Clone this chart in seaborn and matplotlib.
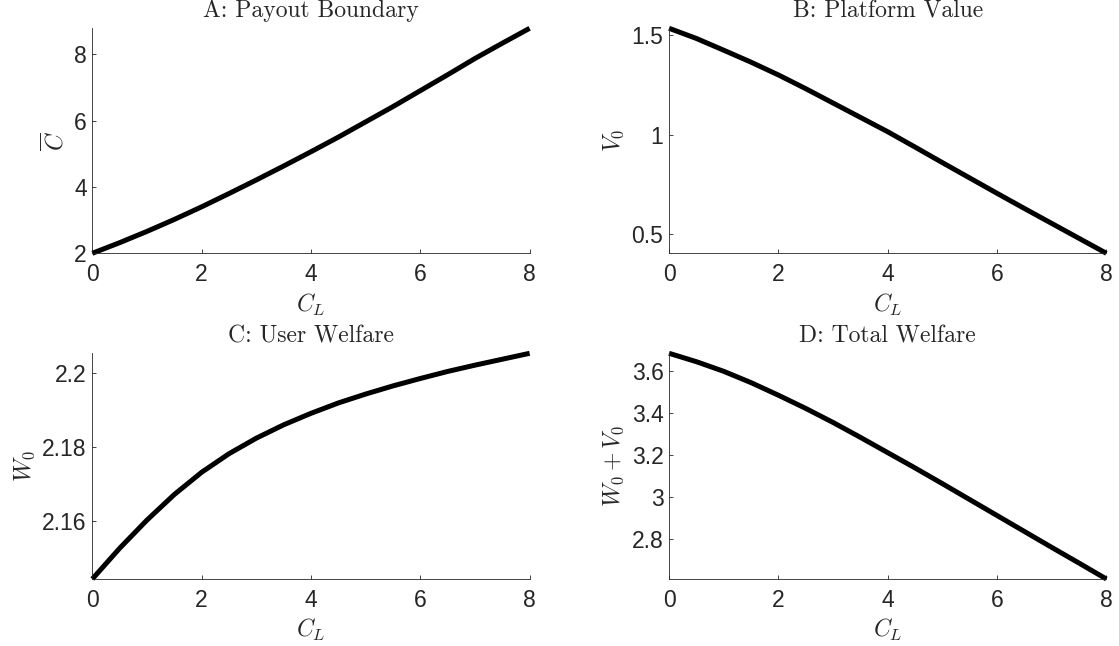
import numpy as np
import pandas as pd
import matplotlib
matplotlib.use("Agg")
import matplotlib.pyplot as plt
import seaborn as sns
from matplotlib.ticker import FuncFormatter

# Style: MATLAB-like boxed-off axes
sns.set_style("white")
plt.rcParams.update({
    'font.family': ['Liberation Sans', 'DejaVu Sans'],
    'mathtext.fontset': 'cm',
    'axes.edgecolor': '#262626',
    'axes.linewidth': 0.6,
    'xtick.bottom': True,
    'ytick.left': True,
    'xtick.color': '#262626',
    'ytick.color': '#262626',
    'xtick.direction': 'in',
    'ytick.direction': 'in',
    'xtick.major.size': 3.2,
    'ytick.major.size': 3.2,
    'xtick.major.width': 0.6,
    'ytick.major.width': 0.6,
    'xtick.labelsize': 16.5,
    'ytick.labelsize': 16.5,
    'xtick.major.pad': 7,
    'ytick.major.pad': 4,
})

# Data
c_l = [0, 0.5, 1, 1.5, 2, 2.5, 3, 3.5, 4, 4.5, 5, 5.5, 6, 6.5, 7, 7.5, 8]
payout_boundary = [2.00, 2.32, 2.66, 3.02, 3.40, 3.80, 4.21, 4.63, 5.06,
                   5.50, 5.96, 6.42, 6.90, 7.38, 7.87, 8.33, 8.78]
platform_value = [1.534, 1.483, 1.424, 1.364, 1.300, 1.231, 1.159, 1.087, 1.015,
                  0.938, 0.860, 0.783, 0.706, 0.630, 0.555, 0.480, 0.405]
user_welfare = [2.1444, 2.1527, 2.1603, 2.1672, 2.1732, 2.1782, 2.1824, 2.1860,
                2.1891, 2.1919, 2.1943, 2.1965, 2.1985, 2.2004, 2.2021, 2.2037, 2.2053]
total_welfare = [3.685, 3.645, 3.599, 3.545, 3.485, 3.422, 3.355, 3.284, 3.211,
                 3.138, 3.063, 2.987, 2.911, 2.835, 2.759, 2.684, 2.608]

panels = [
    ("A: Payout Boundary", r'$\overline{C}$', payout_boundary, [2, 4, 6, 8]),
    ("B: Platform Value", r'$V_0$', platform_value, [0.5, 1, 1.5]),
    ("C: User Welfare", r'$W_0$', user_welfare, [2.16, 2.18, 2.2]),
    ("D: Total Welfare", r'$W_0 + V_0$', total_welfare, [2.8, 3.0, 3.2, 3.4, 3.6]),
]

positions = [
    [0.0825, 0.6079, 0.3908, 0.3483],
    [0.5979, 0.6079, 0.3908, 0.3483],
    [0.0825, 0.1037, 0.3908, 0.3494],
    [0.5979, 0.1037, 0.3908, 0.3494],
]

fig, axes = plt.subplots(2, 2, figsize=(11.19, 6.46), dpi=100)
fmt = FuncFormatter(lambda v, p: '%g' % round(v, 4))

for ax, (title, ylab, ys, yticks), pos in zip(axes.flat, panels, positions):
    ax.set_position(pos)
    df = pd.DataFrame({'x': c_l, 'y': ys})
    sns.lineplot(data=df, x='x', y='y', ax=ax, color='black', linewidth=3.6,
                 clip_on=False, solid_capstyle='butt', solid_joinstyle='round')
    ax.set_xlim(0, 8)
    ax.set_ylim(min(ys), max(ys))
    ax.set_xticks([0, 2, 4, 6, 8])
    ax.set_yticks(yticks)
    ax.yaxis.set_major_formatter(fmt)
    ax.set_title(title, fontfamily='cmr10', fontsize=17, pad=8)
    ax.set_xlabel(r'$C_L$', fontsize=17, labelpad=4)
    ax.set_ylabel(ylab, fontsize=17, labelpad=4)
    sns.despine(ax=ax)

fig.savefig('out.png', dpi=100)
